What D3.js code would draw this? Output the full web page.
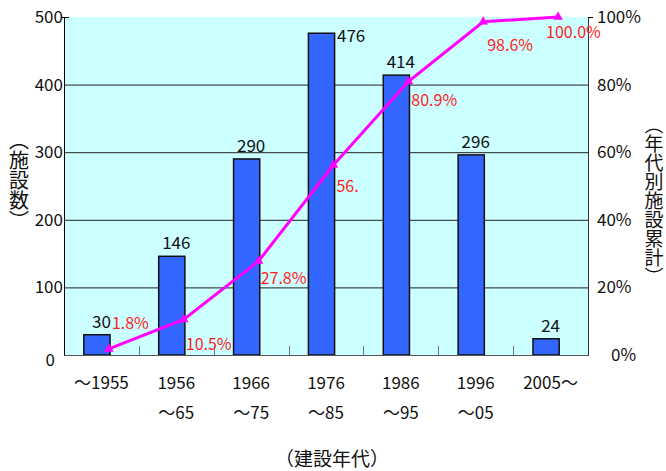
<!DOCTYPE html>
<html><head><meta charset="utf-8">
<script src="https://cdn.jsdelivr.net/npm/d3@7"></script>
<style>
html,body{margin:0;padding:0;background:#fff;}
text{font-family:"Noto Sans CJK JP","Noto Sans",sans-serif;}
</style></head>
<body><svg id="chart" width="666" height="471"></svg>
<script>
// ---- data ----
const categories = ["～1955","1956～65","1966～75","1976～85","1986～95","1996～05","2005～"];
const catLine1 = ["～1955","1956","1966","1976","1986","1996","2005～"];
const catLine2 = ["","～65","～75","～85","～95","～05",""];
const counts = [30,146,290,476,414,296,24];
const cumulativePct = [1.8,10.5,27.8,56.2,80.9,98.6,100.0];
const pctLabels = ["1.8%","10.5%","27.8%","56.","80.9%","98.6%","100.0%"];
const leftTicks = [0,100,200,300,400,500];
const rightTicks = [0,20,40,60,80,100];
const leftTitle = "（施設数）";
const rightTitle = "（年代別施設累計）";
const xTitle = "（建設年代）";

// ---- layout ----
const L = 64, R = 588, T = 17, B = 355;
const svg = d3.select("#chart");
const x = d3.scaleBand().domain(categories).range([L, R]);
const bw = x.bandwidth();
const yL = d3.scaleLinear().domain([0,500]).range([B, T]);
const yR = d3.scaleLinear().domain([0,100]).range([B, T]);
const barOff = 0.265, barW = 0.35, ptOff = 0.6;
const pctOffsets = [[3,-20],[2,30],[2,23],[3,27],[3,24],[4,29],[-12,21]];

svg.append("rect").attr("x",L).attr("y",T).attr("width",R-L).attr("height",B-T).attr("fill","#ccffff");

// gridlines
svg.append("g").selectAll("line").data(leftTicks.filter(d=>d>0&&d<500)).join("line")
  .attr("x1",L).attr("x2",R).attr("y1",d=>yL(d)+0.5).attr("y2",d=>yL(d)+0.5)
  .attr("stroke","#222").attr("stroke-width",1);

// bottom inner ticks
svg.append("g").selectAll("line").data(categories.slice(1)).join("line")
  .attr("x1",d=>Math.round(x(d))+0.5).attr("x2",d=>Math.round(x(d))+0.5)
  .attr("y1",B).attr("y2",B-9).attr("stroke","#777").attr("stroke-width",1);

// bars
svg.append("g").selectAll("rect").data(counts).join("rect")
  .attr("x",(d,i)=>x(categories[i])+bw*barOff)
  .attr("width",bw*barW)
  .attr("y",d=>yL(d)).attr("height",d=>B-yL(d))
  .attr("fill","#3366ff").attr("stroke","#111").attr("stroke-width",1.5);

// axes lines
svg.append("line").attr("x1",L+0.5).attr("x2",L+0.5).attr("y1",T).attr("y2",B).attr("stroke","#000");
svg.append("line").attr("x1",R+0.5).attr("x2",R+0.5).attr("y1",T).attr("y2",B).attr("stroke","#333");
svg.append("line").attr("x1",L).attr("x2",R+1).attr("y1",B+0.5).attr("y2",B+0.5).attr("stroke","#555");
svg.append("line").attr("x1",L-3).attr("x2",L+5).attr("y1",T+0.5).attr("y2",T+0.5).attr("stroke","#000");
svg.append("line").attr("x1",R).attr("x2",R+5).attr("y1",T+0.5).attr("y2",T+0.5).attr("stroke","#000");

// left tick labels
svg.append("g").selectAll("text").data(leftTicks).join("text")
  .attr("x",d=>d===0?55:63).attr("y",d=>yL(d)+(d===0?11:6))
  .attr("text-anchor","end").attr("font-size",17).attr("fill","#111")
  .text(d=>d);
// right tick labels
svg.append("g").selectAll("text").data(rightTicks).join("text")
  .attr("x",d=>d===0?611:597).attr("y",d=>yR(d)+6)
  .attr("text-anchor","start").attr("font-size",17).attr("fill","#111")
  .text(d=>d+"%");

// x labels
const xl = svg.append("g");
xl.selectAll("text.l1").data(catLine1).join("text").attr("class","l1")
  .attr("x",(d,i)=>x(categories[i])+bw/2).attr("y",389)
  .attr("text-anchor","middle").attr("font-size",17).attr("fill","#111").text(d=>d);
xl.selectAll("text.l2").data(catLine2).join("text").attr("class","l2")
  .attr("x",(d,i)=>x(categories[i])+bw/2).attr("y",419)
  .attr("text-anchor","middle").attr("font-size",17).attr("fill","#111").text(d=>d);

// line
const pts = cumulativePct.map((v,i)=>[x(categories[i])+bw*ptOff, yR(v)]);
svg.append("path").attr("d",d3.line()(pts)).attr("fill","none")
  .attr("stroke","#ff00ff").attr("stroke-width",3);
svg.append("g").selectAll("path").data(pts).join("path")
  .attr("transform",d=>`translate(${d[0]},${d[1]})`)
  .attr("d",d3.symbol(d3.symbolTriangle,40)).attr("fill","#ff00ff");

// value labels
svg.append("g").selectAll("text").data(counts).join("text")
  .attr("x",(d,i)=>i===3 ? x(categories[i])+bw*0.62+2 : x(categories[i])+bw/2)
  .attr("y",(d,i)=>i===3 ? yL(d)+9 : yL(d)-7)
  .attr("text-anchor",(d,i)=>i===3?"start":"middle")
  .attr("font-size",17).attr("fill","#111").text(d=>d);

// pct labels
svg.append("g").selectAll("text").data(pctLabels).join("text")
  .attr("x",(d,i)=>pts[i][0]+pctOffsets[i][0])
  .attr("y",(d,i)=>pts[i][1]+pctOffsets[i][1])
  .attr("font-size",16).attr("fill","#ff2222").text(d=>d);

// titles
svg.append("text").attr("x",19).attr("y",180).attr("text-anchor","middle")
  .style("writing-mode","vertical-rl").attr("font-size",20).attr("fill","#111").text(leftTitle);
svg.append("text").attr("x",654).attr("y",201).attr("text-anchor","middle")
  .style("writing-mode","vertical-rl").attr("font-size",19).attr("fill","#111").text(rightTitle);
svg.append("text").attr("x",332).attr("y",466).attr("text-anchor","middle")
  .attr("font-size",19).attr("fill","#111").text(xTitle);
</script></body></html>
